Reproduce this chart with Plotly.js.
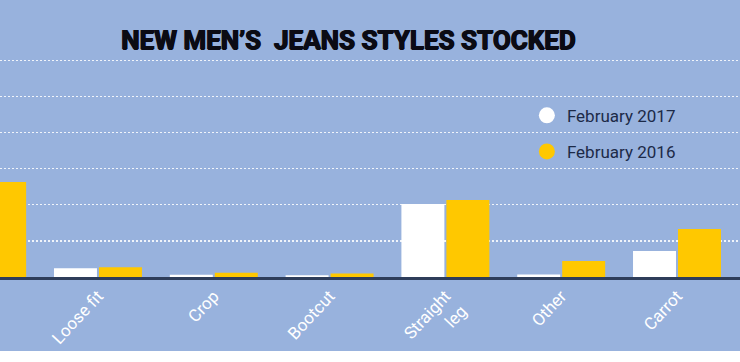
<!DOCTYPE html>
<html>
<head>
<meta charset="utf-8">
<script src="https://cdn.plot.ly/plotly-3.0.1.min.js"></script>
<style>
html,body{margin:0;padding:0;background:#ffffff;}
#chart{width:740px;height:351px;}
</style>
</head>
<body>
<div id="chart"></div>
<script>
// Categories (the first one is cropped off the left edge of the reference)
const categories = ["Skinny", "Loose fit", "Crop", "Bootcut", "Straight<br>leg", "Other", "Carrot"];
const seriesNames = ["February 2017", "February 2016"];
const feb2017 = [null, 2.4, 0.6, 0.5, 20.2, 0.7, 7.2];
const feb2016 = [26.3, 2.7, 1.2, 1.0, 21.3, 4.4, 13.3];
const titleText = "NEW MEN\u2019S&nbsp; JEANS STYLES STOCKED";

const BG = "#98b2dd";
const WHITE = "#ffffff";
const YELLOW = "#ffc800";

const traces = [
  {type: "bar", x: categories, y: feb2017, name: seriesNames[0], marker: {color: WHITE}, showlegend: false, hoverinfo: "skip"},
  {type: "bar", x: categories, y: feb2016, name: seriesNames[1], marker: {color: YELLOW}, showlegend: false, hoverinfo: "skip"},
  {type: "scatter", mode: "markers", x: [null], y: [null], name: seriesNames[0], marker: {color: WHITE, size: 18, symbol: "circle"}, legendgroup: "a"},
  {type: "scatter", mode: "markers", x: [null], y: [null], name: seriesNames[1], marker: {color: YELLOW, size: 18, symbol: "circle"}, legendgroup: "b"}
];

const layout = {
  width: 740, height: 351,
  paper_bgcolor: BG, plot_bgcolor: BG,
  margin: {l: 0, r: 0, t: 53, b: 74},
  font: {family: "Roboto, 'Open Sans', sans-serif"},
  title: {
    text: titleText,
    font: {family: "Roboto", size: 26, weight: 700, color: "#0b0b14",
           shadow: "0.7px 0 0 #0b0b14, -0.7px 0 0 #0b0b14, 0 0.4px 0 #0b0b14"},
    x: 0.471, xanchor: "center", xref: "container",
    y: 0.886, yanchor: "middle", yref: "container"
  },
  barmode: "group",
  bargap: 0.223,
  bargroupgap: 0.045,
  showlegend: true,
  legend: {
    x: 0.712, xanchor: "left", y: 0.80, yanchor: "top",
    bgcolor: "rgba(0,0,0,0)",
    font: {family: "Roboto", size: 17, color: "#1c2a48"},
    tracegroupgap: 11, traceorder: "grouped",
    itemsizing: "trace"
  },
  xaxis: {
    type: "category",
    range: [0.154, 6.544],
    showgrid: false,
    showline: true, linecolor: "#2e3d5a", linewidth: 2.5,
    layer: "above traces",
    ticks: "",
    tickangle: -47,
    tickfont: {family: "Roboto", size: 17, color: WHITE},
    fixedrange: true
  },
  yaxis: {
    range: [0, 62],
    dtick: 10, tick0: 0,
    showticklabels: false,
    showgrid: true, gridcolor: "rgba(255,255,255,0.85)", gridwidth: 1.3, griddash: "2px,2px",
    zeroline: false,
    showline: false,
    fixedrange: true
  }
};

Plotly.newPlot("chart", traces, layout, {displayModeBar: false, staticPlot: true});
</script>
</body>
</html>
